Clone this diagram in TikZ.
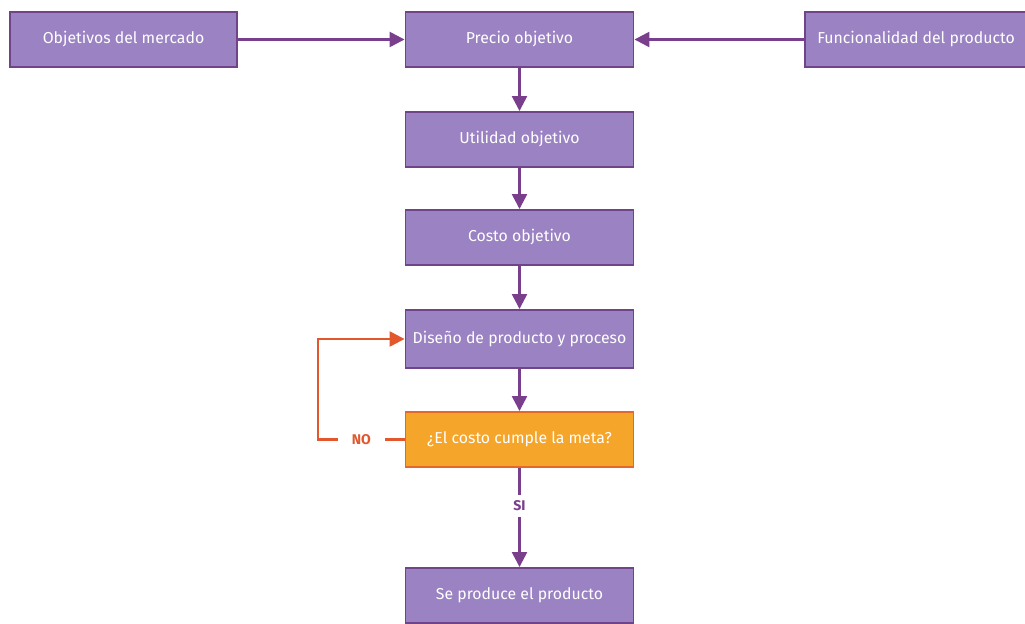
\documentclass[tikz,border=0pt]{standalone}
\usepackage{fontspec}
\setmainfont{Fira Sans}
\usetikzlibrary{calc, positioning}
\usetikzlibrary{arrows.meta}

\definecolor{cajamorada}{HTML}{9B82C2}
\definecolor{bordemorado}{HTML}{6F4488}
\definecolor{lineamorada}{HTML}{7A3F8C}
\definecolor{cajanaranja}{HTML}{F5A52A}
\definecolor{bordenaranja}{HTML}{E2692A}
\definecolor{lineanaranja}{HTML}{E2572B}

\begin{document}
\begin{tikzpicture}[x=0.02cm, y=-0.02cm,
  paso/.style={draw=bordemorado, line width=1.1pt, fill=cajamorada, text=white,
    minimum width=4.56cm, minimum height=1.1cm, inner sep=0pt,
    font=\fontsize{9}{11}\selectfont},
  pregunta/.style={paso, draw=bordenaranja, fill=cajanaranja},
  flecha/.style={-{Triangle[length=3mm, width=3mm]}, line width=1.4pt, draw=lineamorada},
  lazo/.style={-{Triangle[length=3mm, width=3mm]}, line width=1.4pt, draw=lineanaranja}]
\useasboundingbox (0,0) rectangle (1025,624);

% fila de arriba
\node[paso, minimum width=4.54cm] (mercado) at (123.5,39.5) {Objetivos del mercado};
\node[paso] (precio) at (519.5,39.5) {Precio objetivo};
\node[paso, minimum width=4.44cm] (funcional) at (916,39.5) {Funcionalidad del producto};

% columna central
\node[paso] (utilidad) at (519.5,139.5) {Utilidad objetivo};
\node[paso] (costo) at (519.5,237.5) {Costo objetivo};
\node[paso, minimum height=1.16cm] (diseno) at (519.5,339) {Diseño de producto y proceso};
\node[pregunta] (meta) at (519.5,439.5) {¿El costo cumple la meta?};
\node[paso] (produce) at (519.5,595.5) {Se produce el producto};

\coordinate (esquina) at (318,439.5);

\draw[flecha] (mercado) -- (precio);
\draw[flecha] (funcional) -- (precio);
\draw[flecha] (precio) -- (utilidad);
\draw[flecha] (utilidad) -- (costo);
\draw[flecha] (costo) -- (diseno);
\draw[flecha] (diseno) -- (meta);
\draw[flecha] (meta) -- node[pos=0.38, fill=white, text=lineamorada,
  font=\bfseries\fontsize{8}{10}\selectfont] {SI} (produce);

\draw[lazo] (meta) -- node[fill=white, text=lineanaranja, inner xsep=8pt,
  font=\bfseries\fontsize{8}{10}\selectfont] {NO} (esquina) |- (diseno);
\end{tikzpicture}
\end{document}
